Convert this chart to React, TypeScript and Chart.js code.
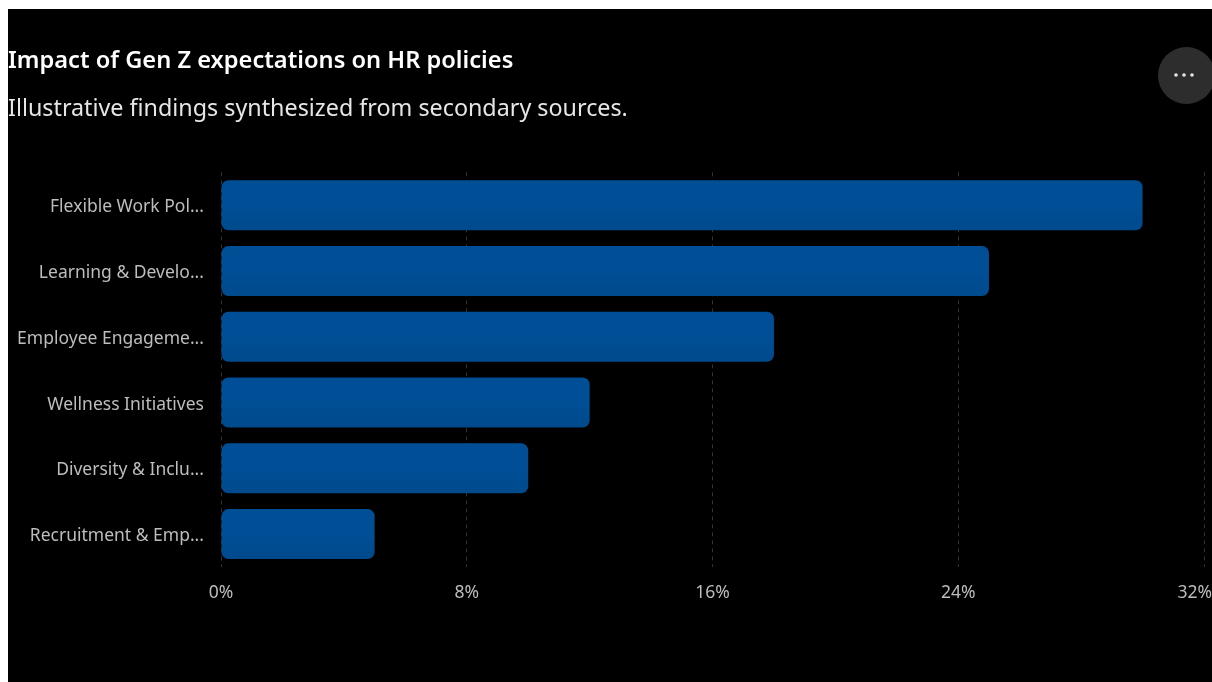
import React, { useEffect, useRef } from "react";
import { Chart, registerables } from "chart.js";

Chart.register(...registerables);

const TITLE = "Impact of Gen Z expectations on HR policies";
const SUBTITLE = "Illustrative findings synthesized from secondary sources.";
const categories = [
  "Flexible Work Pol...",
  "Learning & Develo...",
  "Employee Engageme...",
  "Wellness Initiatives",
  "Diversity & Inclu...",
  "Recruitment & Emp...",
];
const impactShare = [30, 25, 18, 12, 10, 5];
const FONT = "'Noto Sans', sans-serif";

// Round overflow-menu button in the top right corner of the card.
const menuButton = {
  id: "menuButton",
  afterDraw(chart: any) {
    const { ctx } = chart;
    ctx.save();
    ctx.fillStyle = "#2d2d2d";
    ctx.beginPath();
    ctx.arc(1178.5, 66.5, 28.5, 0, Math.PI * 2);
    ctx.fill();
    ctx.fillStyle = "#e8e8e8";
    [-8, 0, 8].forEach((dx) => {
      ctx.beginPath();
      ctx.arc(1176 + dx, 66, 1.8, 0, Math.PI * 2);
      ctx.fill();
    });
    ctx.restore();
  },
};

// Nudges the axis labels: the last value label stays inside the card rather than
// centring on its grid line, and the text sits optically centred against the bars.
const labelTweaks = {
  id: "labelTweaks",
  beforeDraw(chart: any) {
    const xItems = chart.scales.x.getLabelItems();
    xItems.forEach((item: any) => {
      item.options.translation[1] += 1;
    });
    const last = xItems[xItems.length - 1];
    if (last) {
      last.options.textAlign = "right";
      last.options.translation[0] = chart.width;
    }
    chart.scales.y.getLabelItems().forEach((item: any) => {
      item.options.translation[1] += 2;
    });
  },
};

// Subtle top-to-bottom shading across one bar.
const barFill = (c: any) => {
  const yScale = c.chart.scales.y;
  if (!yScale || c.dataIndex === undefined) return "#004d92";
  const mid = yScale.getPixelForValue(c.dataIndex);
  if (!Number.isFinite(mid)) return "#004d92";
  const g = c.chart.ctx.createLinearGradient(0, mid - 25, 0, mid + 25);
  g.addColorStop(0, "#004e96");
  g.addColorStop(0.5, "#004e96");
  g.addColorStop(1, "#004a8c");
  return g;
};

export default function App() {
  const ref = useRef<HTMLCanvasElement>(null);

  useEffect(() => {
    const canvas = ref.current;
    if (!canvas) return;
    const chart = new Chart(canvas, {
      type: "bar",
      data: {
        labels: categories,
        datasets: [
          {
            data: impactShare,
            backgroundColor: barFill,
            borderRadius: 7,
            borderSkipped: false,
            barPercentage: 0.76,
            categoryPercentage: 1,
          },
        ],
      },
      options: {
        indexAxis: "y",
        responsive: true,
        maintainAspectRatio: false,
        animation: false,
        layout: { padding: { left: 0, right: 8, top: 0, bottom: 64 } },
        plugins: {
          legend: { display: false },
          tooltip: { enabled: false },
          title: {
            display: true,
            text: TITLE,
            align: "start",
            color: "#ffffff",
            font: { family: FONT, size: 23.65, weight: "600" },
            padding: { top: 38.5, bottom: 20 },
          },
          subtitle: {
            display: true,
            text: SUBTITLE,
            align: "start",
            color: "#e6e6e6",
            font: { family: FONT, size: 23.3, weight: "400" },
            padding: { top: 0, bottom: 48.5 },
          },
        },
        scales: {
          x: {
            min: 0,
            max: 32,
            border: { display: false, dash: [4, 4] },
            grid: {
              color: "#333333",
              lineWidth: 1,
              drawTicks: false,
            },
            afterFit: (scale: any) => {
              scale.paddingLeft = 0;
              scale.paddingRight = 0;
            },
            ticks: {
              stepSize: 8,
              padding: 15,
              maxRotation: 0,
              autoSkip: false,
              color: "#bdbdbd",
              font: { family: FONT, size: 17.5 },
              callback: (v: any) => `${v}%`,
            },
          },
          y: {
            border: { display: false },
            grid: { display: false, drawTicks: false },
            afterFit: (scale: any) => {
              scale.width = 213;
            },
            ticks: {
              padding: 17,
              color: "#bdbdbd",
              autoSkip: false,
              font: { family: FONT, size: 17.5 },
            },
          },
        },
      } as any,
      plugins: [menuButton, labelTweaks],
    });
    return () => chart.destroy();
  }, []);

  return (
    <div
      style={{
        position: "absolute",
        left: 8,
        top: 9,
        width: 1204,
        height: 673,
        background: "#000000",
      }}
    >
      <canvas ref={ref} />
    </div>
  );
}
